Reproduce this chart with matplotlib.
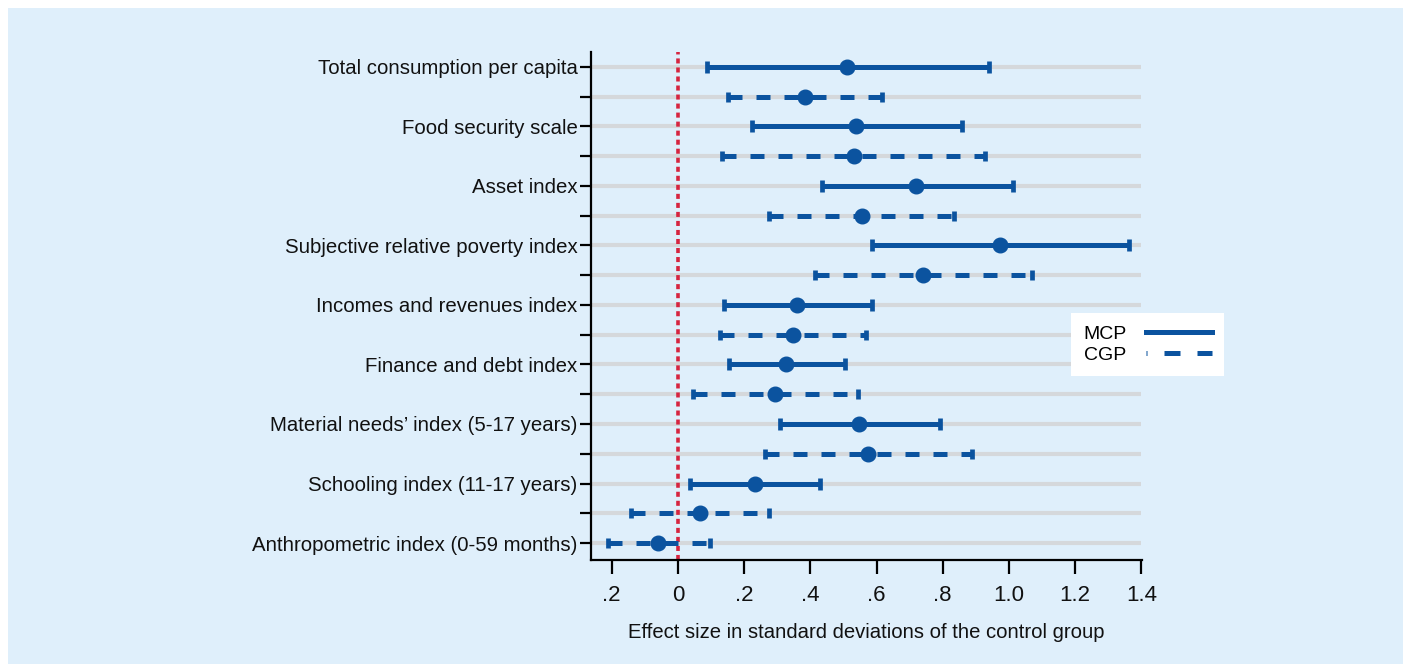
import matplotlib
matplotlib.use("Agg")
import matplotlib.pyplot as plt
from matplotlib.lines import Line2D
from matplotlib.patches import Rectangle

# ── Datos (efecto y límites del IC) ─────────────────────────────
row_labels = [
    "Total consumption per capita", "",
    "Food security scale", "",
    "Asset index", "",
    "Subjective relative poverty index", "",
    "Incomes and revenues index", "",
    "Finance and debt index", "",
    "Material needs\u2019 index (5-17 years)", "",
    "Schooling index (11-17 years)", "",
    "Anthropometric index (0-59 months)",
]
row_group = ["MCP", "CGP", "MCP", "CGP", "MCP", "CGP", "MCP", "CGP",
             "MCP", "CGP", "MCP", "CGP", "MCP", "CGP", "MCP", "CGP", "CGP"]
estimate = [0.512, 0.383, 0.539, 0.531, 0.720, 0.556, 0.972, 0.741,
            0.361, 0.348, 0.327, 0.293, 0.547, 0.575, 0.232, 0.068, -0.059]
ci_low = [0.088, 0.151, 0.223, 0.133, 0.435, 0.275, 0.586, 0.415,
          0.140, 0.126, 0.155, 0.045, 0.307, 0.264, 0.038, -0.142, -0.210]
ci_high = [0.940, 0.618, 0.859, 0.929, 1.012, 0.834, 1.362, 1.069,
           0.585, 0.569, 0.506, 0.543, 0.793, 0.888, 0.430, 0.275, 0.097]

xticks = [-0.2, 0, 0.2, 0.4, 0.6, 0.8, 1.0, 1.2, 1.4]
xtick_labels = [".2", "0", ".2", ".4", ".6", ".8", "1.0", "1.2", "1.4"]

BG = "#dfeffb"
BLUE = "#0b539f"
RED = "#d6243f"
GRID = "#d5d8db"
TXT = "#111111"

plt.rcParams["font.family"] = ["Liberation Sans", "DejaVu Sans"]

fig = plt.figure(figsize=(14.07, 6.64), dpi=100, facecolor="white")
fig.patches.append(Rectangle((8 / 1407, 0), 1395 / 1407, 656 / 664,
                             transform=fig.transFigure, facecolor=BG,
                             edgecolor="none", zorder=-10))
ax = fig.add_axes([591 / 1407, 104 / 664, 551 / 1407, 508 / 664])
ax.set_facecolor(BG)

n = len(row_labels)
ypos = list(range(n))

# líneas de fondo por fila
for y in ypos:
    ax.plot([-0.2625, 1.4], [y, y], color=GRID, lw=3.0, zorder=1,
            solid_capstyle="butt")

# línea vertical en cero
ax.axvline(0, color=RED, lw=2.6, linestyle=(0, (1.4, 1.1)), zorder=2)

for y, g, est, lo, hi in zip(ypos, row_group, estimate, ci_low, ci_high):
    ls = "-" if g == "MCP" else (0, (2.8, 2.8))
    ax.plot([lo, hi], [y, y], color=BLUE, lw=3.6, linestyle=ls, zorder=3,
            solid_capstyle="butt", dash_capstyle="butt")
    cap = 8.5 if g == "MCP" else 6.5
    ax.plot([lo, hi], [y, y], linestyle="none", marker="|", markersize=cap,
            markeredgewidth=3.4, color=BLUE, zorder=3)
    ax.plot([est], [y], marker="o", markersize=10.5, color=BLUE, zorder=4,
            linestyle="none")

ax.set_xlim(-0.2625, 1.402)
ax.set_ylim(n - 1 + 0.57, -0.5)

ax.set_yticks(ypos)
ax.set_yticklabels(row_labels, fontsize=14.7, color=TXT)
ax.set_xticks(xticks)
ax.set_xticklabels(xtick_labels, fontsize=16, color=TXT)
ax.tick_params(axis="y", length=8, width=1.6, pad=1.8)
ax.tick_params(axis="x", length=10, width=1.6, pad=8)

for s in ["top", "right"]:
    ax.spines[s].set_visible(False)
for s in ["left", "bottom"]:
    ax.spines[s].set_linewidth(1.6)
    ax.spines[s].set_color("black")

ax.set_xlabel("Effect size in standard deviations of the control group",
              fontsize=14.6, color=TXT, labelpad=12)

handles = [
    Line2D([0], [0], color=BLUE, lw=3.6),
    Line2D([0], [0], color=BLUE, lw=3.6, linestyle=(3.0, (3.2, 3.4))),
]
leg = fig.legend(handles, ["MCP", "CGP"], loc="upper left",
                 bbox_to_anchor=(1071 / 1407, 1 - 313 / 664),
                 frameon=True, fancybox=False, fontsize=14,
                 markerfirst=False, handlelength=3.4, handletextpad=1.0,
                 labelspacing=0.2, borderpad=0.62, borderaxespad=0)
leg.get_frame().set_facecolor("white")
leg.get_frame().set_edgecolor("none")
leg.get_frame().set_alpha(1)

fig.savefig("out.png", dpi=100, facecolor=fig.get_facecolor())
